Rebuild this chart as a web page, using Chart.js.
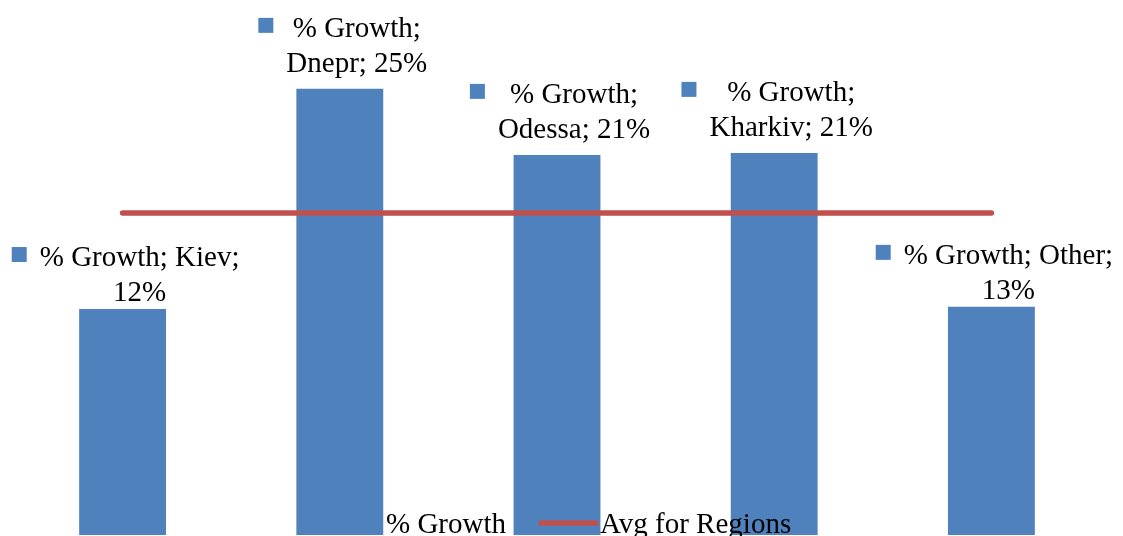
<!DOCTYPE html>
<html>
<head>
<meta charset="utf-8">
<script src="https://cdn.jsdelivr.net/npm/chart.js@4/dist/chart.umd.min.js"></script>
<style>
  html, body { margin: 0; padding: 0; background: #ffffff; }
  #wrap { width: 1123px; height: 536px; }
</style>
</head>
<body>
<div id="wrap"><canvas id="c" width="1123" height="536"></canvas></div>
<script>
// ---- data ----
const categories = ['Kiev', 'Dnepr', 'Odessa', 'Kharkiv', 'Other'];
const growthValues = [12.46, 24.6, 20.96, 21.07, 12.58];
const avgValues = [17.76, 17.76, 17.76, 17.76, 17.76];
const seriesNames = ['% Growth', 'Avg for Regions'];
// number of label parts (series, category) placed on the first label line
const labelFirstLineParts = [2, 1, 1, 1, 2];

const BAR_COLOR = '#4F81BD';
const LINE_COLOR = '#C0504D';
const FONT = '29px "Liberation Serif", "Times New Roman", serif';

const labelPlugin = {
  id: 'barLabels',
  afterDatasetsDraw(chart) {
    const ctx = chart.ctx;
    const meta = chart.getDatasetMeta(1);
    ctx.save();
    ctx.font = FONT;
    ctx.textBaseline = 'alphabetic';
    meta.data.forEach((el, i) => {
      const pct = Math.round(growthValues[i]) + '%';
      let l1, l2;
      if (labelFirstLineParts[i] === 2) {
        l1 = seriesNames[0] + '; ' + categories[i] + ';';
        l2 = pct;
      } else {
        l1 = seriesNames[0] + ';';
        l2 = categories[i] + '; ' + pct;
      }
      const w = Math.max(ctx.measureText(l1).width, ctx.measureText(l2).width);
      const key = 15, gap = 13;
      const blockW = key + gap + w;
      const left = el.x - blockW / 2 + 3;
      const gapBelow = labelFirstLineParts[i] === 2 ? 8 : 17;
      const b2 = el.y - gapBelow;
      const b1 = b2 - 35;
      ctx.fillStyle = BAR_COLOR;
      ctx.fillRect(left, b1 - 19, key, key);
      ctx.fillStyle = '#000000';
      ctx.textAlign = 'center';
      const cx = left + key + gap + w / 2;
      ctx.fillText(l1, cx, b1);
      ctx.fillText(l2, cx, b2);
    });
    ctx.restore();
  }
};

const legendPlugin = {
  id: 'bottomLegend',
  afterDraw(chart) {
    const ctx = chart.ctx;
    ctx.save();
    ctx.font = FONT;
    ctx.textBaseline = 'alphabetic';
    ctx.textAlign = 'left';
    const base = 533;
    let x = 362;
    ctx.fillStyle = BAR_COLOR;
    ctx.fillRect(x, base - 19, 15, 15);
    x += 24;
    ctx.fillStyle = '#000000';
    ctx.fillText(seriesNames[0], x, base);
    x = 541;
    ctx.strokeStyle = LINE_COLOR;
    ctx.lineWidth = 5.5;
    ctx.lineCap = 'round';
    ctx.beginPath();
    ctx.moveTo(x, base - 10);
    ctx.lineTo(x + 55, base - 10);
    ctx.stroke();
    x += 59;
    ctx.fillStyle = '#000000';
    ctx.fillText(seriesNames[1], x, base);
    ctx.restore();
  }
};

new Chart(document.getElementById('c'), {
  data: {
    labels: categories,
    datasets: [
      {
        type: 'line',
        label: seriesNames[1],
        data: avgValues,
        borderColor: LINE_COLOR,
        backgroundColor: LINE_COLOR,
        borderWidth: 5.5,
        borderCapStyle: 'round',
        pointRadius: 0,
        tension: 0,
        order: 0
      },
      {
        type: 'bar',
        label: seriesNames[0],
        data: growthValues,
        backgroundColor: BAR_COLOR,
        borderWidth: 0,
        categoryPercentage: 1.0,
        barPercentage: 0.4,
        order: 1
      }
    ]
  },
  options: {
    responsive: false,
    animation: false,
    layout: { padding: { left: 14, right: 23, top: 0, bottom: 1 } },
    plugins: { legend: { display: false }, tooltip: { enabled: false } },
    scales: {
      x: { display: false, offset: true },
      y: { display: false, min: 0, max: 29.5 }
    }
  },
  plugins: [labelPlugin, legendPlugin]
});
</script>
</body>
</html>
